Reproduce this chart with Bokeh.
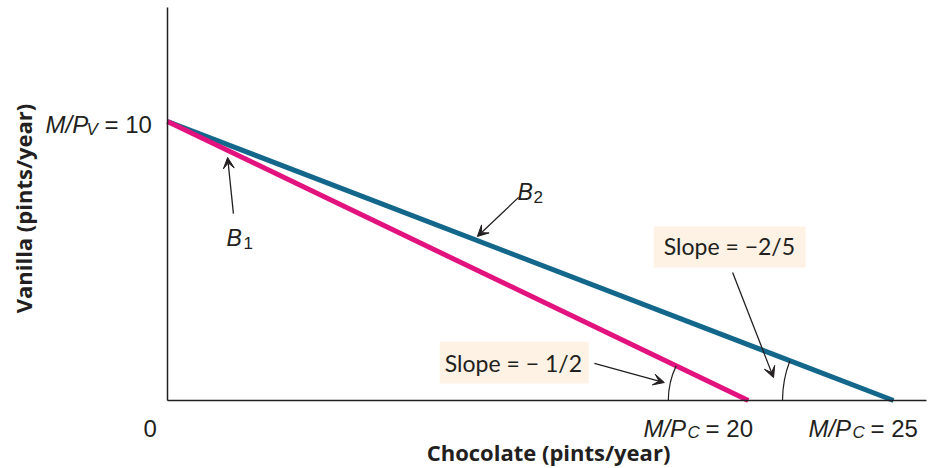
import math
from bokeh.plotting import figure
from bokeh.models import Label, Arrow, VeeHead, BoxAnnotation, Range1d, FixedTicker
from bokeh.embed import file_html
from bokeh.resources import INLINE

# ---- data -------------------------------------------------------------
budget_names = ["B1", "B2"]
vanilla_intercepts = [10, 10]          # M/P_V
chocolate_intercepts = [20, 25]        # M/P_C
line_colors = ["#e2127f", "#12678a"]
slope_texts = ["Slope = \u2212 1/2", "Slope = \u22122/5"]
x_title = "Chocolate (pints/year)"
y_title = "Vanilla (pints/year)"

# ---- layout -----------------------------------------------------------
W, H = 929, 468
X_START, X_END = -5.751, 26.24
Y_START, Y_END = -2.437, 14.337
X_AXIS_END, Y_AXIS_END = 26.14, 14.09
INK = "#231f20"

p = figure(width=W, height=H, x_range=Range1d(X_START, X_END), y_range=Range1d(Y_START, Y_END),
           output_backend="svg", toolbar_location=None,
           min_border_left=0, min_border_right=0, min_border_top=0, min_border_bottom=0)
p.outline_line_color = None
p.xgrid.visible = False
p.ygrid.visible = False

for ax in (p.xaxis, p.yaxis):
    ax.ticker = FixedTicker(ticks=[])
    ax.major_tick_out = 0
    ax.major_tick_in = 0
    ax.minor_tick_out = 0
    ax.minor_tick_in = 0
    ax.major_label_standoff = 0
    ax.axis_label_standoff = 0
    ax.axis_line_color = INK
    ax.axis_line_width = 1.5
    ax.fixed_location = 0
p.xaxis.bounds = (0, X_AXIS_END)
p.yaxis.bounds = (0, Y_AXIS_END)

px_per_x = W / (X_END - X_START)
px_per_y = H / (Y_END - Y_START)

# ---- axis titles ------------------------------------------------------
p.add_layout(Label(x=13.12, y=-1.86, text=x_title, text_font="Open Sans", text_font_style="bold",
                   text_font_size="22px", text_color=INK, text_align="center", text_baseline="middle"))
p.add_layout(Label(x=-4.96, y=6.88, text=y_title, text_font="Open Sans", text_font_style="bold",
                   text_font_size="22px", text_color=INK, text_align="center", text_baseline="middle",
                   angle=math.pi / 2))

# ---- slope boxes ------------------------------------------------------
boxes = [(9.37, 14.50, 0.61, 2.11, 11.91, 1.36), (16.74, 21.97, 4.77, 6.24, 19.35, 5.52)]
for (l, r, b, t, tx, ty), s in zip(boxes, slope_texts):
    p.add_layout(BoxAnnotation(left=l, right=r, bottom=b, top=t, fill_color="#fdf2e4",
                               fill_alpha=1, line_color=None, level="underlay"))
    p.add_layout(Label(x=tx, y=ty, text=s, text_font="Lato", text_font_size="23px",
                       text_align="center", text_baseline="middle", text_color=INK))

# ---- budget lines -----------------------------------------------------
for i in (1, 0):
    p.line([0, chocolate_intercepts[i]], [vanilla_intercepts[i], 0],
           line_width=5, line_color=line_colors[i])

# ---- angle arcs -------------------------------------------------------
arc_r = [80, 111]
for i in range(2):
    th = math.atan2(vanilla_intercepts[i] * px_per_y, chocolate_intercepts[i] * px_per_x)
    p.arc(x=[chocolate_intercepts[i]], y=[0], radius=arc_r[i], radius_units="screen",
          start_angle=math.pi - th, end_angle=math.pi, direction="anticlock",
          line_color=INK, line_width=1.2)

# ---- arrows -----------------------------------------------------------
arrows = [((2.27, 6.70), (2.07, 8.71)),
          ((12.09, 7.28), (10.67, 5.88)),
          ((14.70, 1.33), (17.11, 0.645)),
          ((19.46, 4.59), (20.87, 0.82))]
for (x0, y0), (x1, y1) in arrows:
    p.add_layout(Arrow(x_start=x0, y_start=y0, x_end=x1, y_end=y1, line_color=INK, line_width=1.3,
                       end=VeeHead(size=11, fill_color=INK, line_color=INK, line_width=1)))

# ---- texts ------------------------------------------------------------
def txt(x, y, s, size, style="normal"):
    p.add_layout(Label(x=x, y=y, text=s, text_font="Liberation Sans", text_font_size=f"{size}px",
                       text_font_style=style, text_color=INK, text_align="left",
                       text_baseline="alphabetic"))

txt(-4.20, 9.89, "M/P", 24, "italic")
txt(-2.79, 9.71, "V", 17, "italic")
txt(-2.17, 9.89, "= 10", 24)
txt(-0.83, -1.00, "0", 24)
txt(16.39, -1.00, "M/P", 24, "italic")
txt(17.91, -1.15, "C", 17, "italic")
txt(18.53, -1.00, "= 20", 24)
txt(22.07, -1.00, "M/P", 24, "italic")
txt(23.59, -1.15, "C", 17, "italic")
txt(24.21, -1.00, "= 25", 24)
txt(2.03, 5.84, "B", 23, "italic")
txt(2.62, 5.63, "1", 17)
txt(12.05, 7.49, "B", 23, "italic")
txt(12.60, 7.31, "2", 17)

open("out.html", "w").write(file_html(p, INLINE))
